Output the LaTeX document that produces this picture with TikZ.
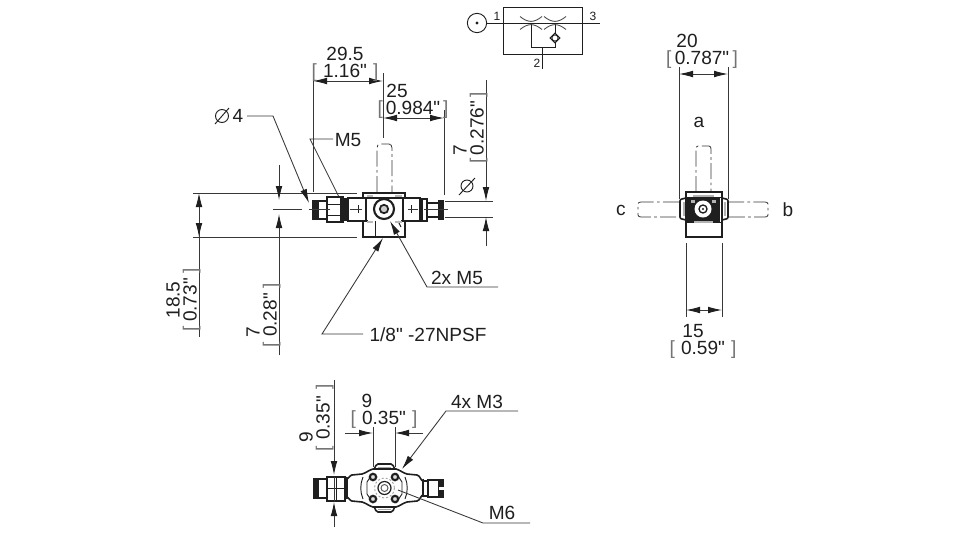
\documentclass[tikz,border=0pt]{standalone}
\usepackage{fontspec}
\newfontfamily\plainsans{Liberation Sans}
\usetikzlibrary{arrows.meta}
\definecolor{ink}{gray}{0.12}
\definecolor{thin}{gray}{0.22}
\definecolor{brk}{gray}{0.45}
\newcommand{\brk}[2]{\makebox[#1][c]{\textcolor{brk}{\smash{[}}\hfill #2\hfill\textcolor{brk}{\smash{]}}}}
\tikzset{
  thinline/.style={draw=thin,line width=0.65pt},
  tipend/.style={thinline,-{Latex[length=10.5pt,width=5pt,color=ink]}},
  bothtip/.style={thinline,{Latex[length=10.5pt,width=5pt,color=ink]}-{Latex[length=10.5pt,width=5pt,color=ink]}},
  lab/.style={inner sep=0pt,text=ink,font=\plainsans\fontsize{14.3}{15}\selectfont},
  small/.style={inner sep=0pt,text=ink,font=\plainsans\fontsize{9}{10}\selectfont},
  part/.style={draw=ink,line width=1.2pt,fill=white},
  partthin/.style={draw=ink,line width=0.7pt},
  ghost/.style={draw=thin,line width=0.6pt,dash pattern=on 12pt off 2.5pt on 2pt off 2.5pt},
  greybit/.style={fill=gray!55,draw=none}
}
\begin{document}
\begin{tikzpicture}[x=0.75pt,y=-0.75pt]
\useasboundingbox (0,0) rectangle (960,544);
\fill[white] (0,0) rectangle (960,544);

%% ---------- pneumatic symbol ----------
\draw[partthin,line width=0.6pt] (503,7) rectangle (582,54);
\draw[partthin,line width=0.7pt] (487,23) -- (600,23);
\node[draw=ink,line width=0.7pt,circle,minimum size=14.5pt,inner sep=0pt] (portc) at (477,23) {};
\fill[ink] (portc.center) circle (1.6);
\draw[partthin,line width=0.6pt] (531,23) -- (531,47) -- (555,47) -- (555,43);
\draw[partthin,line width=0.6pt] (542,47) -- (542,69);
\draw[partthin,line width=0.6pt] (555,23) -- (555,33);
\draw[draw=ink,line width=0.8pt,fill=white] (555,38) circle (3.2);
\draw[partthin,line width=0.7pt] (555,33) -- (560,38) -- (555,43) -- (550,38) -- cycle;
\foreach \c in {531,555}{
  \draw[draw=gray!60!black,line width=0.65pt] (\c-11,16.5) .. controls (\c-3,23) and (\c+3,23) .. (\c+11,16.5);
  \draw[draw=gray!60!black,line width=0.65pt] (\c-11,29.5) .. controls (\c-3,23) and (\c+3,23) .. (\c+11,29.5);
}
\node[small] (n1) at (497,16) {1};
\node[small] (n3) at (593,16) {3};
\node[small] (n2) at (537,63) {2};

%% ---------- main view: extension lines ----------
\draw[thinline] (313,80) -- (313,192);
\draw[thinline] (383,73) -- (383,138);
\draw[thinline] (444,110) -- (444,195);
\draw[thinline] (193,193) -- (357,193);
\draw[thinline] (193,237) -- (357,237);
\draw[thinline] (445,201) -- (493,201);
\draw[thinline] (445,217) -- (493,217);
\draw[thinline] (273,209) -- (302,209);

%% dimensions
\draw[bothtip] (313,81) -- (383,81);
\draw[bothtip] (383,118) -- (444,118);
\node[lab] (d295) at (345,54) {29.5};
\node[lab] (d116) at (345,71) {\brk{50pt}{1.16"}};
\node[lab] (d25) at (397,91) {25};
\node[lab] (d984) at (413,108) {\brk{53pt}{0.984"}};

\draw[tipend] (199,215) -- (199,193);
\draw[thinline] (199,215) -- (199,337);
\draw[tipend] (199,215) -- (199,237);
\node[lab,rotate=90] (d185) at (173,300) {18.5};
\node[lab,rotate=90] (d73) at (190,300) {\brk{47pt}{0.73"}};

\draw[tipend] (279,165) -- (279,200);
\draw[tipend] (279,355) -- (279,214);
\node[lab,rotate=90] (d7a) at (253,332) {7};
\node[lab,rotate=90] (d28) at (270,315) {\brk{48pt}{0.28"}};

\draw[tipend] (486,80) -- (486,201);
\draw[tipend] (486,246) -- (486,217);
\node[lab,rotate=90] (d7b) at (460,150) {7};
\node[lab,rotate=90] (d276) at (477,128) {\brk{53pt}{0.276"}};
\draw[draw=ink,line width=0.7pt] (467,186) circle (6);
\draw[draw=ink,line width=0.7pt] (459,195) -- (475,178);

%% leaders
\draw[draw=ink,line width=0.7pt] (222,116) circle (6.5);
\draw[draw=ink,line width=0.7pt] (215,124) -- (229,108);
\node[lab] (phi4) at (238,116) {4};
\draw[tipend] (247,116) -- (273,116) -- (309,203);
\node[lab] (m5a) at (348,140) {M5};
\draw[thinline] (333,139) -- (310,139) -- (342,203);

%% ghost port
\draw[ghost] (377,192) -- (377,148) to[out=90,in=180] (380,144) -- (389,144) to[out=0,in=90] (392,148) -- (392,192);

%% body
\draw[part] (313,201) rectangle (327,219);
\fill[ink] (313,201) rectangle (319,219);
\draw[part] (327,197) rectangle (343,222);
\draw[partthin] (327,204) -- (343,204) (327,215) -- (343,215);
\fill[ink] (340,198) rectangle (348,221);
\draw[part] (348,198) rectangle (366,221);
\draw[partthin] (358,205) -- (358,213);
\draw[part] (403,198) rectangle (420,221);
\draw[partthin] (411,205) -- (411,213);
\draw[part] (420,199) rectangle (427,221);
\fill[ink] (420,199) rectangle (423,221);
\draw[part] (427,203) rectangle (440,217);
\draw[part,fill=ink] (439,201) rectangle (443,219);
\draw[part] (363,221) rectangle (405,237);
\draw[part] (366,198) rectangle (403,221);
\draw[part] (363,193) rectangle (405,198);
\draw[draw=white,line width=1.4pt] (368,221) -- (401,221);
\draw[partthin] (375,221) -- (375,237);
\draw[partthin] (398,221) -- (401,227);
\fill[greybit] (367,194.5) rectangle (373,197);
\fill[greybit] (395,194.5) rectangle (402,197);
\fill[greybit] (367,221) rectangle (373,223);
\fill[greybit] (395,221) rectangle (402,223);
\draw[draw=ink,line width=1.6pt,fill=white] (384,209) circle (10);
\draw[draw=ink,line width=1.3pt,fill=gray!40] (384,209) circle (4.2);
\draw[thinline] (309,209) -- (330,209) (350,209) -- (362,209) (408,209) -- (418,209) (424,209) -- (448,209);

%% leaders into body
\node[lab] (m52) at (457,278) {2x M5};
\draw[tipend] (498,287) -- (427,287) -- (390,221);
\node[lab] (npsf) at (428,335) {1/8" -27NPSF};
\draw[tipend] (363,334) -- (322,334) -- (383,238);

%% ---------- right view ----------
\draw[thinline] (679,67) -- (679,199);
\draw[thinline] (728,67) -- (728,199);
\draw[bothtip] (679,74) -- (728,74);
\node[lab] (d20) at (687,41) {20};
\node[lab] (d787) at (702,58) {\brk{54pt}{0.787"}};
\node[lab] (la) at (699,122) {a};
\node[lab] (lc) at (621,210) {c};
\node[lab] (lb) at (788,210) {b};
\draw[ghost] (696,192) -- (696,149) to[out=90,in=180] (698,146) -- (709,146) to[out=0,in=90] (711,149) -- (711,192);
\draw[ghost] (679,202) -- (641,202) to[out=180,in=90] (638,204) -- (638,215) to[out=-90,in=180] (641,217) -- (679,217);
\draw[ghost] (728,202) -- (765,202) to[out=0,in=90] (768,204) -- (768,215) to[out=-90,in=0] (765,217) -- (728,217);
\draw[part] (686,192) rectangle (722,237);
\draw[partthin] (686,197) -- (722,197);
\fill[ink] (687,198) rectangle (720,222);
\draw[partthin] (686,222) -- (722,222);
\draw[part] (680,201) to[out=90,in=180] (682,199) -- (686,198) -- (686,220) -- (682,219) to[out=180,in=-90] (680,217) -- cycle;
\draw[part] (728,201) to[out=90,in=0] (726,199) -- (722,198) -- (722,220) -- (726,219) to[out=0,in=-90] (728,217) -- cycle;
\fill[gray!60] (682.5,202) rectangle (684.5,216);
\fill[gray!60] (723.5,202) rectangle (725.5,216);
\fill[white] (703,209) circle (8.5);
\draw[draw=ink,line width=1pt] (703,209) circle (4);
\fill[ink] (703,209) circle (1.2);
\fill[gray!60] (693,195) rectangle (714,197);
\fill[gray!60] (694,221) rectangle (713,223);
\fill[gray!60] (691,200) rectangle (695,203);
\fill[gray!60] (712,200) rectangle (716,203);
\draw[thinline] (686,243) -- (686,317);
\draw[thinline] (722,243) -- (722,317);
\draw[bothtip] (686,310) -- (722,310);
\node[lab] (d15) at (693,331) {15};
\node[lab] (d59) at (703,348) {\brk{50pt}{0.59"}};

%% ---------- bottom view ----------
\draw[tipend] (334,380) -- (334,475);
\draw[tipend] (334,527) -- (334,502);
\node[lab,rotate=90] (d9a) at (306,437) {9};
\node[lab,rotate=90] (d35a) at (323,418) {\brk{50pt}{0.35"}};
\draw[tipend] (345,433) -- (373,433);
\draw[tipend] (423,433) -- (395,433);
\draw[thinline] (373,427) -- (373,467);
\draw[thinline] (395,427) -- (395,467);
\node[lab] (d9b) at (367,401) {9};
\node[lab] (d35b) at (384,418) {\brk{50pt}{0.35"}};

%% body, symmetric about y=488
\draw[part] (373,471) to[out=-85,in=180] (378,464) -- (391,464) to[out=0,in=-95] (396,471) -- cycle;
\draw[part] (373,505) to[out=85,in=180] (378,512) -- (391,512) to[out=0,in=95] (396,505) -- cycle;
\draw[partthin,draw=gray!70] (378,467) -- (391,467) (378,509) -- (391,509);
\draw[part] (347,478) to[out=-60,in=180] (352,475) -- (362,474) .. controls (366,473) and (369,470) .. (373,469) -- (396,469) .. controls (400,470) and (403,473) .. (407,474) -- (417,475) to[out=0,in=-120] (423,480) -- (423,496) to[out=120,in=0] (417,501) -- (407,502) .. controls (403,503) and (400,506) .. (396,507) -- (373,507) .. controls (369,506) and (366,503) .. (362,502) -- (352,501) to[out=180,in=60] (347,498) -- cycle;
\draw[partthin] (363,477) .. controls (360,484) and (360,492) .. (363,499);
\draw[partthin] (405,477) .. controls (408,484) and (408,492) .. (405,499);
\draw[partthin] (373,473) -- (367,482) -- (367,494) -- (373,503);
\draw[partthin] (396,473) -- (402,482) -- (402,494) -- (396,503);
\draw[part] (423,481) rectangle (428,496);
\draw[part] (428,480) rectangle (443,497);
\fill[ink] (438,479) rectangle (443,498);
\fill[white] (439,486.5) rectangle (444,490);
\draw[part] (327,477) rectangle (345,501);
\draw[partthin] (327,488) -- (345,488) (336,477) -- (336,501);
\draw[part] (314,479) rectangle (327,498);
\fill[ink] (314,479) rectangle (319,498);
\draw[thinline] (334,477) -- (334,502);
\foreach \hx/\hy in {373/477,395/477,373/499,395/499}{
  \draw[draw=ink,line width=1.6pt,fill=gray!25] (\hx,\hy) circle (3.2);
}
\draw[draw=gray!70,line width=0.7pt,dash pattern=on 1.5pt off 1.5pt] (384.5,488) circle (10);
\draw[draw=ink,line width=0.9pt] (384.5,488) circle (6.5);
\draw[draw=gray!70!black,line width=0.7pt] (384.5,488) circle (3.5);

\node[lab] (m34) at (477,402) {4x M3};
\draw[tipend] (518,411) -- (446,411) -- (402,469);
\node[lab] (m6) at (502,513) {M6};
\draw[thinline] (530,523) -- (483,523) -- (398,490);
\end{tikzpicture}
\end{document}
